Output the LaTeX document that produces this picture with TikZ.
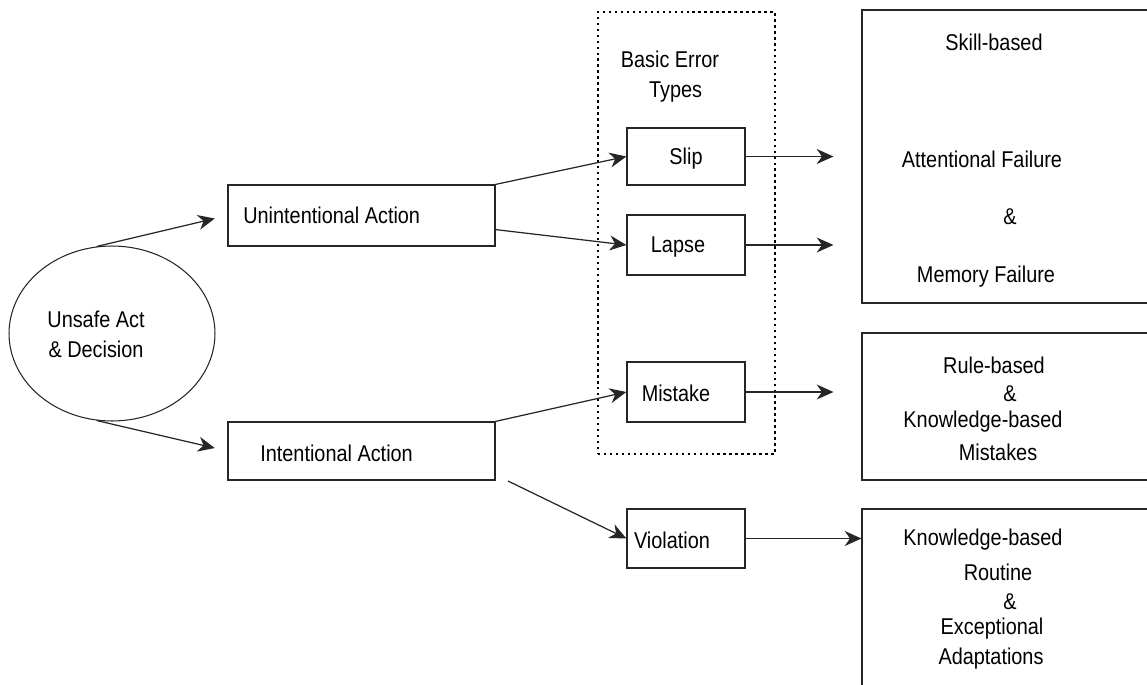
\documentclass[tikz,border=0pt]{standalone}
\usepackage{fontspec}
\setmainfont{Liberation Sans}[FakeStretch=0.87]
\usetikzlibrary{shapes.geometric,arrows.meta}
\begin{document}
\begin{tikzpicture}[x=0.02cm,y=-0.02cm,
  box/.style={draw=black!85,line width=0.7pt,rectangle,inner sep=0pt},
  txt/.style={inner sep=0pt,yshift=-0.04cm,font=\fontsize{13}{15}\selectfont},
  arr/.style={draw=black!85,line width=0.7pt,-{Stealth[length=9.5pt,width=8.5pt,inset=3pt]}},
  gap/.style={shorten >=0.26cm}]
\clip (0,0) rectangle (1147,684);
\fill[white] (0,0) rectangle (1147,684);
% ellipse
\node[draw=black!85,line width=0.6pt,ellipse,minimum width=4.12cm,minimum height=3.5cm,inner sep=0pt] (ell) at (112,333.5) {};
\node[txt,align=center,font=\fontsize{13}{17}\selectfont] (elltxt) at (96,332) {Unsafe Act\\\& Decision};
% first level
\node[box,minimum width=5.34cm,minimum height=1.22cm] (unint) at (361.5,215.5) {};
\node[txt,anchor=west] (uninttxt) at (243,213) {Unintentional Action};
\node[box,minimum width=5.34cm,minimum height=1.16cm] (intent) at (361.5,451) {};
\node[txt,anchor=west] (intenttxt) at (260,451) {Intentional Action};
% dotted container
\node[draw=black,line width=1.4pt,dotted,rectangle,minimum width=3.54cm,minimum height=8.84cm,inner sep=0pt] (ebox) at (686.5,233) {};
\node[txt,align=center,font=\fontsize{13}{17}\selectfont] (ebtxt) at (670,75) {Basic Error\\\ \ Types};
% error types
\node[box,minimum width=2.36cm,minimum height=1.14cm] (slip) at (686,156.5) {};
\node[txt] (sliptxt) at (686,157) {Slip};
\node[box,minimum width=2.36cm,minimum height=1.2cm] (lapse) at (686,245) {};
\node[txt] (lapsetxt) at (678,245) {Lapse};
\node[box,minimum width=2.36cm,minimum height=1.2cm] (mistake) at (686,392) {};
\node[txt] (mistaketxt) at (676,391) {Mistake};
\node[box,minimum width=2.36cm,minimum height=1.18cm] (viol) at (686,538.5) {};
\node[txt] (violtxt) at (672,538) {Violation};
% right boxes
\node[box,minimum width=5.96cm,minimum height=5.86cm] (skill) at (1011,156.5) {};
\node[txt] (s1) at (994,40) {Skill-based};
\node[txt] (s2) at (982,157) {Attentional Failure};
\node[txt] (s3) at (1010,215) {\&};
\node[txt] (s4) at (986,275) {Memory Failure};
\node[box,minimum width=5.96cm,minimum height=2.94cm] (rule) at (1011,406.5) {};
\node[txt] (r1) at (994,363) {Rule-based};
\node[txt] (r2) at (1010,392) {\&};
\node[txt] (r3) at (983,420) {Knowledge-based};
\node[txt] (r4) at (998,450) {Mistakes};
\node[box,minimum width=5.96cm,minimum height=4.22cm] (know) at (1011,614.5) {};
\node[txt] (k1) at (983,538) {Knowledge-based};
\node[txt] (k2) at (998,570) {Routine};
\node[txt] (k3) at (1010,600) {\&};
\node[txt] (k4) at (992,627) {Exceptional};
\node[txt] (k5) at (991,657) {Adaptations};
% connectors
\draw[arr,gap] (ell.100) -- (unint.west);
\draw[arr,gap] (ell.260) -- (intent.west);
\draw[arr] (unint.north east) -- (slip.west);
\draw[arr] (unint.-6) -- (lapse.west);
\draw[arr] (intent.north east) -- (mistake.west);
\coordinate (vs) at (508,481);
\draw[arr] (vs) -- (viol.west);
\draw[arr,shorten >=0.56cm] (slip.east) -- (slip.east -| skill.west);
\draw[arr,shorten >=0.56cm] (lapse.east) -- (lapse.east -| skill.west);
\draw[arr,shorten >=0.56cm] (mistake.east) -- (mistake.east -| rule.west);
\draw[arr] (viol.east) -- (viol.east -| know.west);
\end{tikzpicture}
\end{document}
